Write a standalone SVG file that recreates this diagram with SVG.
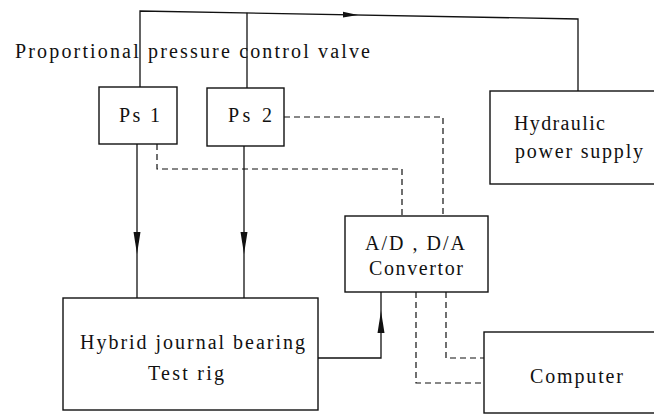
<svg xmlns="http://www.w3.org/2000/svg" width="654" height="416" viewBox="0 0 654 416">
<style>
.box{fill:#fff;stroke:#111;stroke-width:1.4}
.ln{fill:none;stroke:#111;stroke-width:1.3}
.dash{fill:none;stroke:#111;stroke-width:1.2;stroke-dasharray:6,4}
.ah{fill:#111;stroke:none}
text{font-family:"Liberation Serif","DejaVu Serif",serif;font-size:20px;fill:#111}
</style>
<rect width="654" height="416" fill="#fff"/>
<g id="connectors">
<polyline class="ln" points="140,87 140,11 578,19 578,91"/>
<line class="ln" x1="247" y1="12.8" x2="247" y2="88"/>
<polygon class="ah" points="358,14.9 343,11.8 343,17.6"/>
<line class="ln" x1="137" y1="144" x2="137" y2="298"/>
<polygon class="ah" points="137,254 133.5,232 140.5,232"/>
<line class="ln" x1="244" y1="146" x2="244" y2="300"/>
<polygon class="ah" points="244,254 240.5,232 247.5,232"/>
<polyline class="ln" points="318,358 381,358 381,292"/>
<polygon class="ah" points="381,311 377.5,333 384.5,333"/>
<polyline class="dash" points="157,144 157,169 402,169 402,216"/>
<polyline class="dash" points="284,117 443,117 443,216"/>
<polyline class="dash" points="416,292 416,383 484,383"/>
<polyline class="dash" points="446,292 446,358 484,358"/>
</g>
<text x="15" y="58" textLength="355" lengthAdjust="spacing">Proportional pressure control valve</text>
<g id="ps1">
<rect class="box" x="99" y="87" width="78" height="57"/>
<text x="119" y="122" textLength="41" lengthAdjust="spacing">Ps 1</text>
</g>
<g id="ps2">
<rect class="box" x="207" y="88" width="77" height="58"/>
<text x="228" y="122" textLength="44" lengthAdjust="spacing">Ps 2</text>
</g>
<g id="hydraulic">
<rect class="box" x="490" y="91" width="170" height="93"/>
<text x="514" y="130" textLength="91" lengthAdjust="spacing">Hydraulic</text>
<text x="515" y="158" textLength="128" lengthAdjust="spacing">power supply</text>
</g>
<g id="testrig">
<rect class="box" x="63" y="298" width="255" height="112"/>
<text x="80" y="349" textLength="225" lengthAdjust="spacing">Hybrid journal bearing</text>
<text x="148" y="380" textLength="76" lengthAdjust="spacing">Test rig</text>
</g>
<g id="convertor">
<rect class="box" x="345" y="216" width="143" height="76"/>
<text x="365" y="250" textLength="100" lengthAdjust="spacing">A/D , D/A</text>
<text x="369" y="275" textLength="94" lengthAdjust="spacing">Convertor</text>
</g>
<g id="computer">
<rect class="box" x="484" y="332" width="176" height="81"/>
<text x="530" y="383" textLength="93" lengthAdjust="spacing">Computer</text>
</g>
</svg>
